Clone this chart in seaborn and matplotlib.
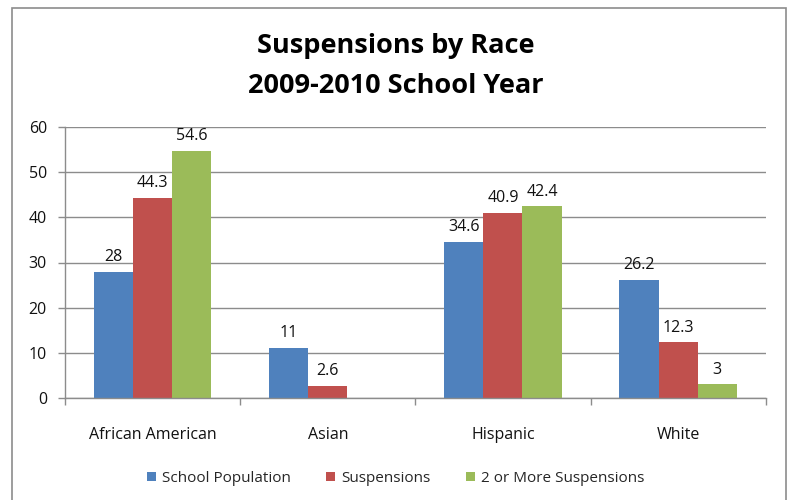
import numpy as np
import pandas as pd
import matplotlib
matplotlib.use("Agg")
import matplotlib.pyplot as plt
import seaborn as sns
from matplotlib.patches import Rectangle

categories = ["African American", "Asian", "Hispanic", "White"]
series_names = ["School Population", "Suspensions", "2 or More Suspensions"]
school_population = [28, 11, 34.6, 26.2]
suspensions = [44.3, 2.6, 40.9, 12.3]
two_or_more = [54.6, np.nan, 42.4, 3]
colors = ["#4F81BD", "#C0504D", "#9BBB59"]

rows = []
for name, vals in zip(series_names, [school_population, suspensions, two_or_more]):
    for cat, v in zip(categories, vals):
        rows.append({"Race": cat, "Series": name, "Value": v})
df = pd.DataFrame(rows)

sns.set_theme(style="white")
plt.rcParams["font.family"] = ["Open Sans", "DejaVu Sans"]

fig = plt.figure(figsize=(7.91, 5.0), dpi=100)
ax = fig.add_axes([0.0822, 0.204, 0.8858, 0.542])

sns.barplot(data=df, x="Race", y="Value", hue="Series", palette=colors,
            width=0.67, gap=0, saturation=1, ax=ax, errorbar=None,
            edgecolor="none", linewidth=0)

for cont in ax.containers:
    labels = ["" if np.isnan(b.get_height()) else f"{b.get_height():g}" for b in cont]
    ax.bar_label(cont, labels=labels, padding=5, fontsize=11.5, color="#111111")

ax.set_ylim(0, 60)
ax.set_xlim(-0.5, 3.5)
ax.set_yticks(range(0, 61, 10))
ax.yaxis.grid(True, color="#8c8c8c", linewidth=1)
ax.set_axisbelow(True)
ax.set_xlabel("")
ax.set_ylabel("")
for s in ["top", "right"]:
    ax.spines[s].set_visible(False)
for s in ["left", "bottom"]:
    ax.spines[s].set_color("#8c8c8c")
    ax.spines[s].set_linewidth(1)
ax.set_xticks([0, 1, 2, 3])
ax.set_xticklabels(categories)
ax.set_xticks([-0.5, 0.5, 1.5, 2.5, 3.5], minor=True)
ax.tick_params(axis="x", which="major", length=0, pad=21, labelsize=11.5, colors="#111111")
ax.tick_params(axis="x", which="minor", length=5, width=1, color="#8c8c8c", direction="out", bottom=True)
ax.tick_params(axis="y", length=5, width=1, color="#8c8c8c", direction="out", left=True,
               labelsize=11.5, labelcolor="#111111", pad=8)

handles, labs = ax.get_legend_handles_labels()
ax.legend(handles, labs, loc="center", bbox_to_anchor=(0.5, 0.043), bbox_transform=fig.transFigure,
          ncol=3, frameon=False, fontsize=11, handlelength=0.6, handleheight=0.6,
          handletextpad=0.4, columnspacing=2.3)

fig.text(0.5, 0.908, "Suspensions by Race", ha="center", va="center",
         fontsize=19.5, fontweight="bold", color="#000000")
fig.text(0.5, 0.828, "2009-2010 School Year", ha="center", va="center",
         fontsize=19.5, fontweight="bold", color="#000000")

fig.patches.append(Rectangle((12 / 791, -0.01), 774 / 791, 0.994, transform=fig.transFigure,
                             fill=False, edgecolor="#8c8c8c", linewidth=1.2))

fig.savefig("out.png", dpi=100, facecolor="white")
